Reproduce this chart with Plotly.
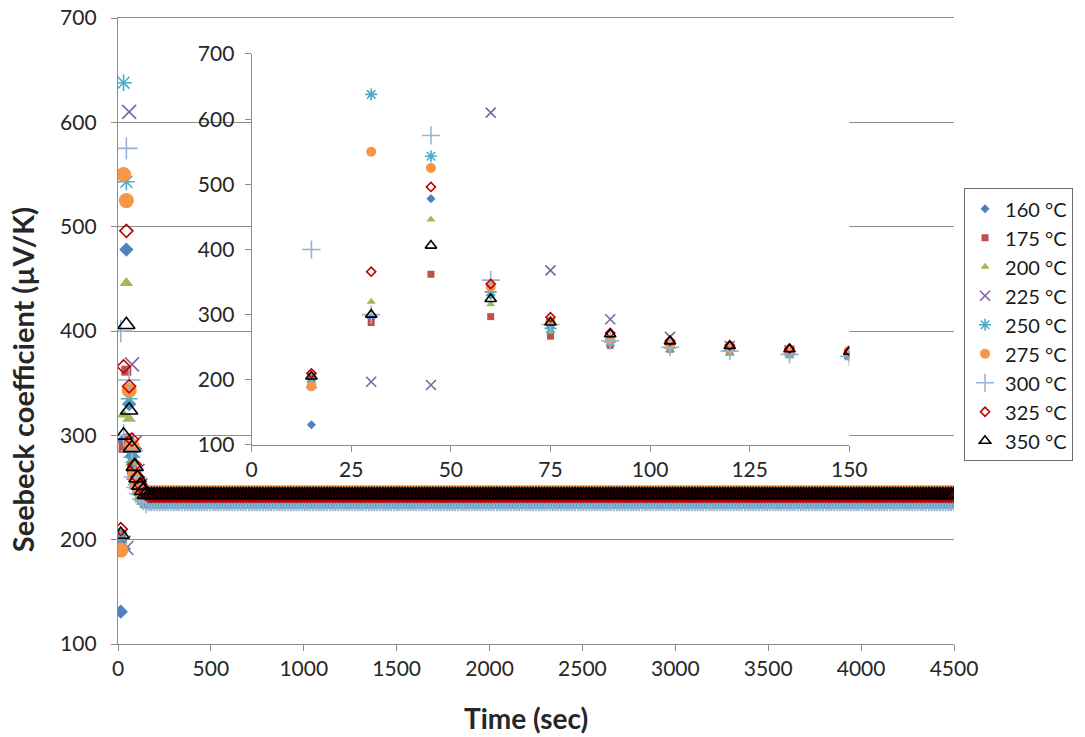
import plotly.graph_objects as go

# ---------------- data ----------------
series_names = ["160 °C", "175 °C", "200 °C", "225 °C", "250 °C",
                "275 °C", "300 °C", "325 °C", "350 °C"]

# time stamps (s) of the early transient (also shown in the inset)
t_early = [15, 30, 45, 60, 75, 90, 105, 120, 135, 150]

s160 = [131, 295, 478, 330, 280, 258, 250, 245, 241, 238]
s175 = [205, 288, 362, 297, 267, 253, 247, 243, 240, 239]
s200 = [200, 320, 446, 316, 274, 255, 246, 240, 236, 233]
s225 = [195, 197, 192, 610, 368, 293, 266, 252, 245, 240]
s250 = [202, 638, 543, 335, 279, 258, 249, 244, 240, 237]
s275 = [190, 550, 525, 343, 290, 262, 253, 248, 246, 245]
s300 = [400, 300, 575, 353, 285, 260, 250, 244, 239, 236]
s325 = [210, 366, 496, 347, 296, 272, 260, 253, 248, 244]
s350 = [205, 300, 406, 324, 288, 270, 259, 252, 247, 243]

# plateau readings for the long-time part (t = 165 ... 4500 s, every 15 s)
t_tail = list(range(165, 4501, 15))
plateau = [237, 239, 233, 237, 236, 245, 238, 242, 243]

main_x_ticks = [0, 500, 1000, 1500, 2000, 2500, 3000, 3500, 4000, 4500]
y_ticks = [100, 200, 300, 400, 500, 600, 700]
inset_x_ticks = [0, 25, 50, 75, 100, 125, 150]

early = [s160, s175, s200, s225, s250, s275, s300, s325, s350]

# ---------------- styles ----------------
styles = [
    dict(symbol="diamond", color="#4F81BD", open=False, main=11, inset=7),
    dict(symbol="square", color="#C0504D", open=False, main=10, inset=7),
    dict(symbol="triangle-up", color="#9BBB59", open=False, main=12, inset=8),
    dict(symbol="x-thin-open", color="#8064A2", open=True, main=14, inset=10),
    dict(symbol="asterisk-open", color="#4BACC6", open=True, main=14, inset=10),
    dict(symbol="circle", color="#F79646", open=False, main=15, inset=10),
    dict(symbol="cross-thin-open", color="#95B3D7", open=True, main=16, inset=13),
    dict(symbol="diamond-open", color="#C00000", open=True, main=10, inset=7),
    dict(symbol="triangle-up-open", color="#000000", open=True, main=15, inset=10),
]

FONT = "Lato"
GRID = "#8c8c8c"
TXT = "#262626"

fig = go.Figure()

def marker(st, size):
    if st["open"]:
        return dict(symbol=st["symbol"], size=size, color=st["color"],
                    line=dict(color=st["color"], width=1.6))
    return dict(symbol=st["symbol"], size=size, color=st["color"],
                line=dict(width=0))

# main plot traces
for name, ys, lvl, st in zip(series_names, early, plateau, styles):
    fig.add_trace(go.Scatter(
        x=t_early + t_tail,
        y=ys + [lvl] * len(t_tail),
        mode="markers", name=name, showlegend=False,
        marker=marker(st, st["main"]),
        xaxis="x", yaxis="y"))

# inset traces
for i, (name, ys, st) in enumerate(zip(series_names, early, styles)):
    fig.add_trace(go.Scatter(
        x=t_early, y=ys, mode="markers", name=name, showlegend=True,
        marker=marker(st, st["inset"]),
        xaxis="x2", yaxis="y2"))

# white panel behind the inset (covers the main grid lines)
fig.add_shape(type="rect", xref="x", yref="y", x0=413, x1=4038, y0=259, y1=688.5,
              fillcolor="white", line=dict(width=0), layer="below")

# axis titles
fig.add_annotation(text="<b>Seebeck coefficient (µV/K)</b>", textangle=-90,
                   xref="paper", yref="paper", x=-0.1146, y=0.4217,
                   xanchor="center", yanchor="middle", showarrow=False,
                   font=dict(family=FONT, size=29, color=TXT))
fig.add_annotation(text="<b>Time (sec)</b>",
                   xref="paper", yref="paper", x=0.488, y=-0.1182,
                   xanchor="center", yanchor="middle", showarrow=False,
                   font=dict(family=FONT, size=28, color=TXT))

axis_common = dict(showline=True, linecolor=GRID, linewidth=1.3,
                   ticks="outside", ticklen=6, tickcolor=GRID, tickwidth=1.3,
                   tickfont=dict(family=FONT, size=21, color=TXT),
                   zeroline=False, automargin=False)

fig.update_layout(
    width=1085, height=737,
    margin=dict(l=118, r=129, t=18, b=93),
    paper_bgcolor="white", plot_bgcolor="white",
    font=dict(family=FONT, color=TXT),
    xaxis=dict(range=[0, 4500], tickvals=main_x_ticks, showgrid=False, mirror=True,
               domain=[0, 1], anchor="y", **axis_common),
    yaxis=dict(range=[100, 700], tickvals=y_ticks, showgrid=True, gridcolor=GRID,
               gridwidth=1.3, ticklabelstandoff=10,
               domain=[0, 1], anchor="x", **axis_common),
    xaxis2=dict(range=[0, 150], tickvals=inset_x_ticks, showgrid=False,
                domain=[0.1599, 0.8747], anchor="y2", **axis_common),
    yaxis2=dict(range=[100, 700], tickvals=y_ticks, showgrid=False, ticklabelstandoff=6,
                domain=[0.3179, 0.9425], anchor="x2", **axis_common),
    legend=dict(x=1.012, y=0.728, xanchor="left", yanchor="top",
                bgcolor="white", bordercolor="#6b6b6b", borderwidth=1,
                font=dict(family=FONT, size=20, color="#1a1a1a"),
                tracegroupgap=0, itemwidth=30),
    showlegend=True,
)

# remove the default page margin so the figure sits at the window's corner
fig.write_html("out.html", config={"displayModeBar": False},
               post_script="document.body.style.margin='0px';document.body.style.padding='0px';")
